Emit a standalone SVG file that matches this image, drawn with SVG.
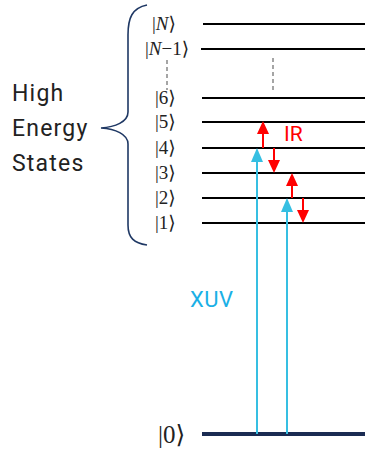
<svg xmlns="http://www.w3.org/2000/svg" width="365" height="453" viewBox="0 0 365 453">
<style>
.lvl{stroke:#000;stroke-width:2}
.ket{font-family:"Liberation Serif","DejaVu Serif",serif;font-size:19px;fill:#222}
.side{font-family:Roboto,"Liberation Sans",sans-serif;font-size:23px;fill:#222;letter-spacing:1.2px}
.dash{stroke:#888;stroke-width:1.5;stroke-dasharray:4 3}
.xuv{stroke:#36bfe2;stroke-width:2}
.ir{stroke:#ff0000;stroke-width:2}
</style>
<rect width="365" height="453" fill="#fff"/>
<g id="label-high-energy">
<text class="side" x="12" y="101">High</text>
<text class="side" x="12" y="136">Energy</text>
<text class="side" x="12" y="171">States</text>
</g>
<g id="brace">
<path d="M147,5 C132,8 128,18 128,35 L128,112 C128,122 115,127 101,128 C115,129 128,134 128,144 L128,225 C128,238 134,243 147,245" fill="none" stroke="#1f3864" stroke-width="1.6"/>
</g>
<g id="level-N"><line class="lvl" x1="203" y1="24" x2="365" y2="24"/><text class="ket" x="152" y="30">|<tspan font-style="italic">N</tspan>⟩</text></g>
<g id="level-N-1"><line class="lvl" x1="201" y1="49" x2="365" y2="49"/><text class="ket" x="145" y="55">|<tspan font-style="italic">N</tspan>−1⟩</text></g>
<g id="ellipsis"><line class="dash" x1="167" y1="60" x2="167" y2="90"/><line class="dash" x1="273" y1="58" x2="273" y2="90"/></g>
<g id="level-6"><line class="lvl" x1="202" y1="98" x2="365" y2="98"/><text class="ket" x="155" y="104">|6⟩</text></g>
<g id="level-5"><line class="lvl" x1="202" y1="122" x2="365" y2="122"/><text class="ket" x="155" y="128">|5⟩</text></g>
<g id="level-4"><line class="lvl" x1="202" y1="148" x2="365" y2="148"/><text class="ket" x="155" y="154">|4⟩</text></g>
<g id="level-3"><line class="lvl" x1="202" y1="173" x2="365" y2="173"/><text class="ket" x="155" y="179">|3⟩</text></g>
<g id="level-2"><line class="lvl" x1="202" y1="198" x2="365" y2="198"/><text class="ket" x="155" y="204">|2⟩</text></g>
<g id="level-1"><line class="lvl" x1="202" y1="223" x2="365" y2="223"/><text class="ket" x="155" y="229">|1⟩</text></g>
<g id="level-0"><line x1="202" y1="434" x2="365" y2="434" stroke="#1a2b52" stroke-width="4"/><text class="ket" x="158" y="443" style="font-size:25px">|0⟩</text></g>
<g id="connectors">
<line class="xuv" x1="257" y1="434" x2="257" y2="160"/>
<polygon points="257,148 251,162 263,162" fill="#36bfe2"/>
<line class="xuv" x1="287" y1="434" x2="287" y2="210"/>
<polygon points="287,198 281,212 293,212" fill="#36bfe2"/>
<line class="ir" x1="263" y1="148" x2="263" y2="133"/>
<polygon points="263,121 257,134 269,134" fill="#ff0000"/>
<line class="ir" x1="274" y1="148" x2="274" y2="161"/>
<polygon points="274,173 268,160 280,160" fill="#ff0000"/>
<line class="ir" x1="292" y1="198" x2="292" y2="185"/>
<polygon points="292,173 286,186 298,186" fill="#ff0000"/>
<line class="ir" x1="303" y1="198" x2="303" y2="211"/>
<polygon points="303,223 297,210 309,210" fill="#ff0000"/>
</g>
<g id="labels">
<text x="190" y="307" font-family="Roboto,'Liberation Sans',sans-serif" font-size="22" fill="#1ab0e6" letter-spacing="0.5">XUV</text>
<text x="284" y="141" font-family="Roboto,'Liberation Sans',sans-serif" font-size="21" fill="#ff0000">IR</text>
</g>
</svg>
